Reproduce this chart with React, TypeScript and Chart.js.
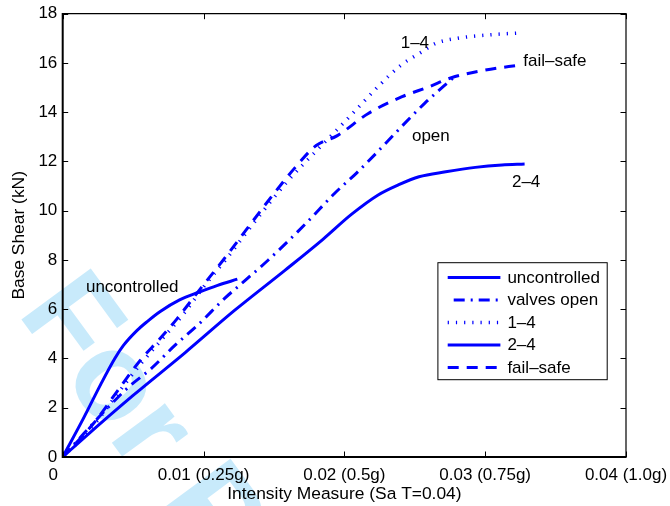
import React, { useEffect, useRef } from 'react';
import { Chart, registerables } from 'chart.js';

Chart.register(...registerables);

// ---- data ----
const seriesNames = ['uncontrolled', 'valves open', '1–4', '2–4', 'fail–safe'];

const uncontrolledX = [0, 0.0015, 0.0027, 0.0037, 0.0043, 0.0053, 0.006, 0.0069, 0.0083, 0.0097, 0.011, 0.0124];
const uncontrolledY = [0, 1.6, 2.95, 4.0, 4.52, 5.15, 5.5, 5.9, 6.38, 6.7, 6.97, 7.22];

const valvesOpenX = [0, 0.0015, 0.0032, 0.0047, 0.0063, 0.008, 0.0096, 0.0115, 0.013, 0.0146, 0.0173, 0.0193, 0.0209, 0.0222, 0.0236, 0.0257, 0.0277];
const valvesOpenY = [0, 0.95, 2.0, 2.85, 3.6, 4.55, 5.36, 6.44, 7.19, 8.0, 9.5, 10.7, 11.55, 12.3, 13.14, 14.36, 15.38];

const oneFourX = [0, 0.002, 0.004, 0.0055, 0.007, 0.0085, 0.01, 0.0117, 0.0135, 0.0159, 0.0183, 0.0195, 0.021, 0.0225, 0.024, 0.0255, 0.0265, 0.028, 0.0305, 0.0325];
const oneFourY = [0, 1.15, 2.65, 3.75, 4.75, 5.75, 6.9, 8.1, 9.45, 11.15, 12.6, 13.3, 14.2, 15.1, 15.9, 16.45, 16.8, 17.0, 17.15, 17.22];

const twoFourX = [0, 0.0016, 0.005, 0.0087, 0.0122, 0.0158, 0.0185, 0.0205, 0.0224, 0.0238, 0.0253, 0.0272, 0.0293, 0.0312, 0.0328];
const twoFourY = [0, 0.82, 2.5, 4.24, 5.95, 7.59, 8.85, 9.85, 10.64, 11.04, 11.38, 11.58, 11.76, 11.86, 11.9];

const failSafeX = [0, 0.0022, 0.0041, 0.0055, 0.0069, 0.0081, 0.0098, 0.0114, 0.013, 0.0148, 0.0165, 0.018, 0.0195, 0.0217, 0.0241, 0.026, 0.0276, 0.03, 0.0325];
const failSafeY = [0, 1.37, 2.85, 3.92, 4.8, 5.6, 6.85, 8.0, 9.2, 10.55, 11.75, 12.65, 13.05, 13.95, 14.63, 15.03, 15.4, 15.71, 15.92];

const xTickValues = [0, 0.01, 0.02, 0.03, 0.04];
const xTickLabels = ['0    ', '0.01 (0.25g)', '0.02 (0.5g)', '0.03 (0.75g)', '0.04 (1.0g)'];
const yTickValues = [0, 2, 4, 6, 8, 10, 12, 14, 16, 18];

const curveLabelText = ['uncontrolled', 'open', '1–4', 'fail–safe', '2–4'];
const curveLabelX = [0.00165, 0.0248, 0.024, 0.0327, 0.0319];
const curveLabelY = [6.9, 13.03, 16.78, 16.08, 11.14];

const FONT = '"Liberation Sans", Arial, Helvetica, sans-serif';
const BLUE = '#0000ff';
const FS = 17;

function pts(xs: number[], ys: number[]) {
  return xs.map((x, i) => ({ x, y: ys[i] }));
}

const watermarkPlugin = {
  id: 'watermark',
  beforeDraw(chart: any) {
    const { ctx } = chart;
    ctx.save();
    ctx.fillStyle = '#ffffff';
    ctx.fillRect(0, 0, chart.width, chart.height);
    ctx.translate(16.4, 312.7);
    ctx.rotate((53.7 * Math.PI) / 180);
    ctx.fillStyle = '#c8eafb';
    ctx.font = `bold 125px ${FONT}`;
    ctx.textBaseline = 'alphabetic';
    ctx.textAlign = 'left';
    ctx.fillText('For Peer Review', 0, 0);
    ctx.restore();
  },
};

const framePlugin = {
  id: 'frame',
  afterDraw(chart: any) {
    const { ctx, chartArea } = chart;
    const { left, right, top, bottom } = chartArea;
    const xs = chart.scales.x;
    const ys = chart.scales.y;
    ctx.save();
    ctx.strokeStyle = '#000';
    ctx.lineWidth = 1;
    const tl = 5.5;
    ctx.beginPath();
    xTickValues.forEach((v) => {
      const px = Math.round(xs.getPixelForValue(v)) + 0.5;
      ctx.moveTo(px, bottom);
      ctx.lineTo(px, bottom - tl);
      ctx.moveTo(px, top);
      ctx.lineTo(px, top + tl);
    });
    yTickValues.forEach((v) => {
      const py = Math.round(ys.getPixelForValue(v)) + 0.5;
      ctx.moveTo(left, py);
      ctx.lineTo(left + tl, py);
      ctx.moveTo(right, py);
      ctx.lineTo(right - tl, py);
    });
    ctx.stroke();
    // box
    ctx.lineWidth = 1.2;
    ctx.beginPath();
    ctx.moveTo(left, top);
    ctx.lineTo(right, top);
    ctx.lineTo(right, bottom);
    ctx.stroke();
    ctx.lineWidth = 2;
    ctx.beginPath();
    ctx.moveTo(left, top - 0.6);
    ctx.lineTo(left, bottom);
    ctx.lineTo(right + 0.6, bottom);
    ctx.stroke();

    // curve labels
    ctx.fillStyle = '#000';
    ctx.font = `${FS}px ${FONT}`;
    ctx.textAlign = 'left';
    ctx.textBaseline = 'middle';
    curveLabelText.forEach((t, i) => {
      ctx.fillText(t, xs.getPixelForValue(curveLabelX[i]), ys.getPixelForValue(curveLabelY[i]));
    });

    // legend
    const bx = right - 18.3;
    const bw = 170.3;
    const by = top + 248.5;
    const bh = 118;
    ctx.fillStyle = '#fff';
    ctx.fillRect(bx - bw, by, bw, bh);
    ctx.strokeStyle = '#000';
    ctx.lineWidth = 1;
    ctx.strokeRect(bx - bw + 0.5, by + 0.5, bw - 1, bh - 1);
    chart.data.datasets.forEach((ds: any, i: number) => {
      const cy = by + 15.3 + i * 22.5;
      ctx.save();
      ctx.strokeStyle = ds.borderColor;
      ctx.lineWidth = ds.borderWidth;
      ctx.setLineDash(ds.borderDash || []);
      ctx.lineDashOffset = ds.legendDashOffset || 0;
      ctx.beginPath();
      ctx.moveTo(bx - bw + 10.3, cy);
      ctx.lineTo(bx - bw + 63, cy);
      ctx.stroke();
      ctx.restore();
      ctx.fillStyle = '#000';
      ctx.font = `${FS}px ${FONT}`;
      ctx.textAlign = 'left';
      ctx.textBaseline = 'middle';
      ctx.fillText(ds.label, bx - bw + 70, cy + 0.5);
    });
    ctx.restore();
  },
};

export default function App() {
  const ref = useRef<HTMLCanvasElement | null>(null);
  useEffect(() => {
    const canvas = ref.current;
    if (!canvas) return;
    const common = { borderColor: BLUE, backgroundColor: BLUE, showLine: true, pointRadius: 0, fill: false, cubicInterpolationMode: 'monotone' as const };
    const chart = new Chart(canvas, {
      type: 'scatter',
      data: {
        datasets: [
          { ...common, label: seriesNames[0], data: pts(uncontrolledX, uncontrolledY), borderWidth: 3, borderDash: [] },
          { ...common, label: seriesNames[1], data: pts(valvesOpenX, valvesOpenY), borderWidth: 3, borderDash: [11, 6, 2, 6], legendDashOffset: 19 },
          { ...common, label: seriesNames[2], data: pts(oneFourX, oneFourY), borderWidth: 3.5, borderDash: [1.2, 7] },
          { ...common, label: seriesNames[3], data: pts(twoFourX, twoFourY), borderWidth: 3, borderDash: [] },
          { ...common, label: seriesNames[4], data: pts(failSafeX, failSafeY), borderWidth: 3, borderDash: [11, 8] },
        ],
      },
      options: {
        animation: false,
        responsive: false,
        maintainAspectRatio: false,
        devicePixelRatio: 1,
        layout: { padding: { left: 0, right: 44, top: 13.7, bottom: 0 } },
        plugins: { legend: { display: false }, tooltip: { enabled: false } },
        scales: {
          x: {
            type: 'linear',
            min: 0,
            max: 0.04,
            grid: { display: false, drawTicks: false },
            border: { display: false },
            ticks: {
              stepSize: 0.01,
              padding: 8.5,
              color: '#000',
              maxRotation: 0,
              autoSkip: false,
              font: { family: FONT, size: FS },
              callback: (v: any) => {
                const idx = xTickValues.findIndex((t) => Math.abs(t - Number(v)) < 1e-9);
                return idx >= 0 ? xTickLabels[idx] : '';
              },
            },
            title: { display: true, text: 'Intensity Measure (Sa T=0.04)', color: '#000', font: { family: FONT, size: 17.4 }, padding: { top: 0, bottom: 1.6 } },
            afterFit: (s: any) => { s.height = 49; s.paddingLeft = 0; s.paddingRight = 0; },
          },
          y: {
            type: 'linear',
            min: 0,
            max: 18,
            grid: { display: false, drawTicks: false },
            border: { display: false },
            ticks: { stepSize: 2, padding: 5.4, color: '#000', font: { family: FONT, size: FS } },
            title: { display: true, text: 'Base Shear (kN)', color: '#000', font: { family: FONT, size: 17.4 }, padding: { top: 9, bottom: 0 } },
            afterFit: (s: any) => { s.width = 62.7; s.paddingTop = 0; s.paddingBottom = 0; },
          },
        },
      } as any,
      plugins: [watermarkPlugin, framePlugin],
    });
    return () => chart.destroy();
  }, []);
  return (
    <div style={{ position: 'fixed', left: 0, top: 0, width: 670, height: 506, background: '#fff' }}>
      <canvas ref={ref} width={670} height={506} style={{ display: 'block', width: 670, height: 506 }} />
    </div>
  );
}
